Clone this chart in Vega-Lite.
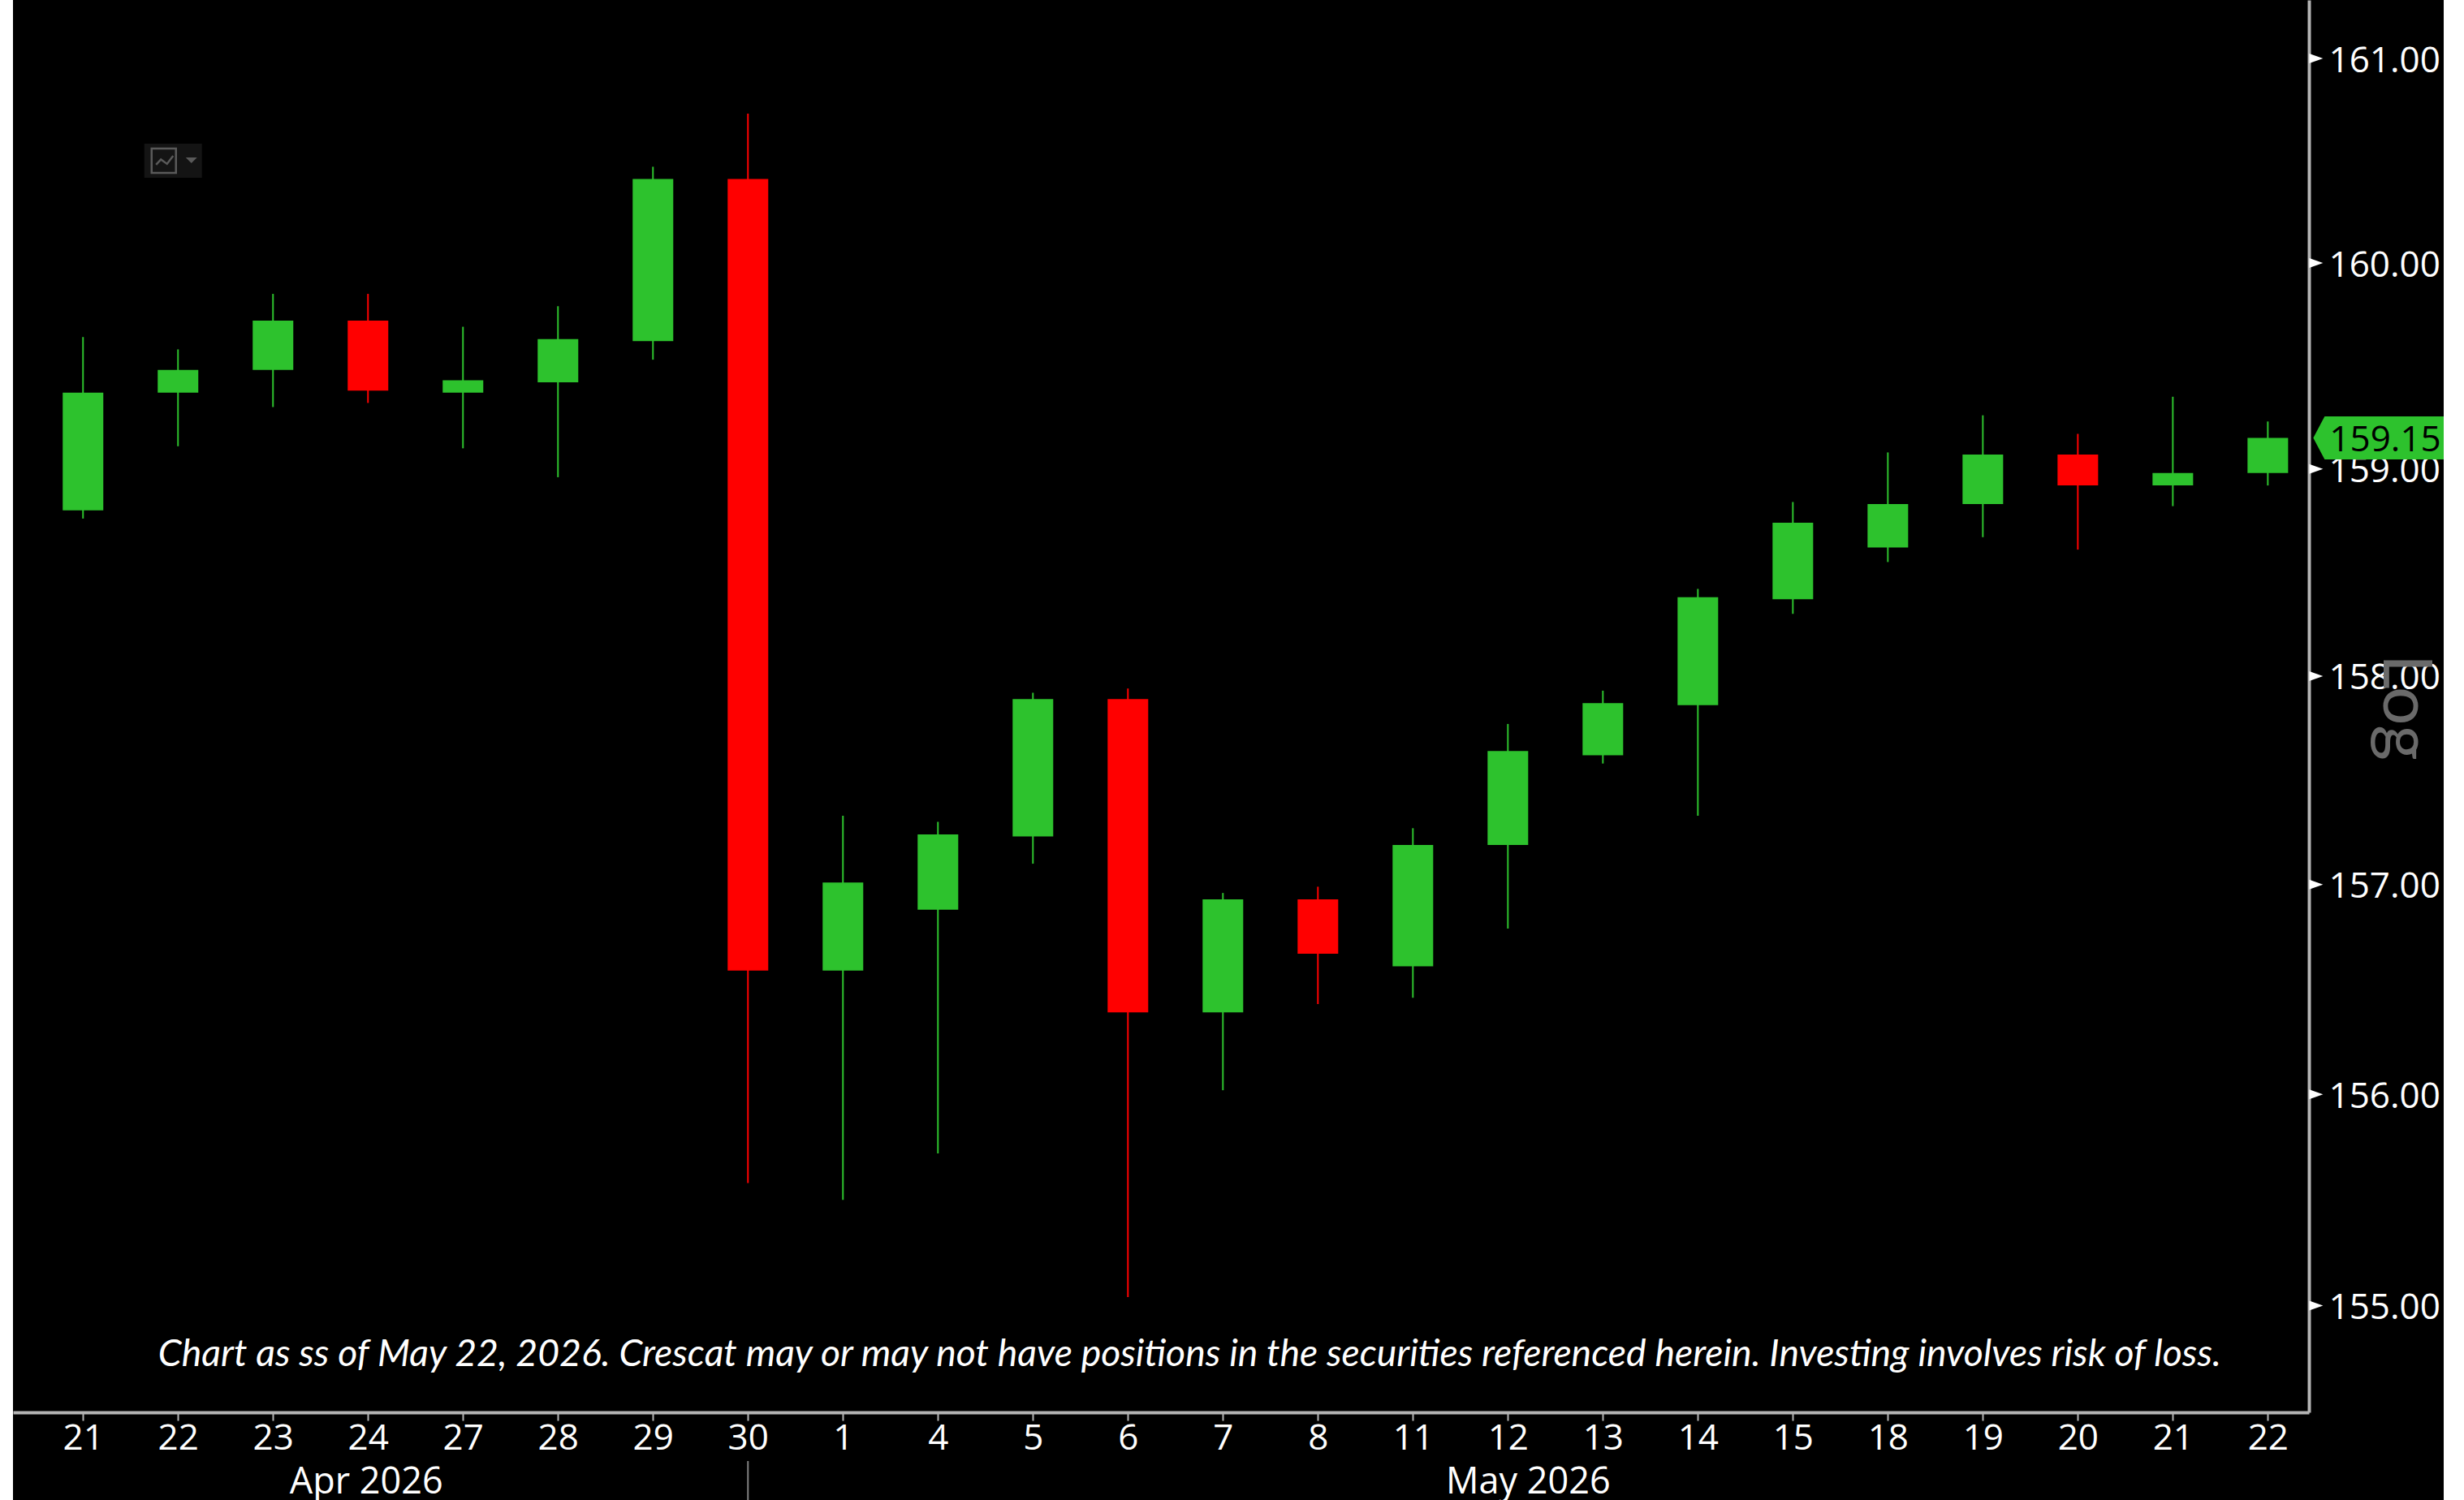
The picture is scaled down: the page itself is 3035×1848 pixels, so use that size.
{
"$schema":"https://vega.github.io/schema/vega-lite/v6.json",
"width":2828,"height":1740,
"autosize":{"type":"none"},
"padding":{"left":16,"top":0,"right":166,"bottom":108},
"background":"#000000",
"view":{"stroke":null,"fill":"#000000"},
"config":{"font":"Open Sans"},
"datasets":{
"candles":[
{"date":"2026-04-21","open":158.80,"close":159.37,"high":159.64,"low":158.76},
{"date":"2026-04-22","open":159.37,"close":159.48,"high":159.58,"low":159.11},
{"date":"2026-04-23","open":159.48,"close":159.72,"high":159.85,"low":159.30},
{"date":"2026-04-24","open":159.72,"close":159.38,"high":159.85,"low":159.32},
{"date":"2026-04-27","open":159.37,"close":159.43,"high":159.69,"low":159.10},
{"date":"2026-04-28","open":159.42,"close":159.63,"high":159.79,"low":158.96},
{"date":"2026-04-29","open":159.62,"close":160.41,"high":160.47,"low":159.53},
{"date":"2026-04-30","open":160.41,"close":156.59,"high":160.73,"low":155.58},
{"date":"2026-05-01","open":156.59,"close":157.01,"high":157.33,"low":155.50},
{"date":"2026-05-04","open":156.88,"close":157.24,"high":157.30,"low":155.72},
{"date":"2026-05-05","open":157.23,"close":157.89,"high":157.92,"low":157.10},
{"date":"2026-05-06","open":157.89,"close":156.39,"high":157.94,"low":155.04},
{"date":"2026-05-07","open":156.39,"close":156.93,"high":156.96,"low":156.02},
{"date":"2026-05-08","open":156.93,"close":156.67,"high":156.99,"low":156.43},
{"date":"2026-05-11","open":156.61,"close":157.19,"high":157.27,"low":156.46},
{"date":"2026-05-12","open":157.19,"close":157.64,"high":157.77,"low":156.79},
{"date":"2026-05-13","open":157.62,"close":157.87,"high":157.93,"low":157.58},
{"date":"2026-05-14","open":157.86,"close":158.38,"high":158.42,"low":157.33},
{"date":"2026-05-15","open":158.37,"close":158.74,"high":158.84,"low":158.30},
{"date":"2026-05-18","open":158.62,"close":158.83,"high":159.08,"low":158.55},
{"date":"2026-05-19","open":158.83,"close":159.07,"high":159.26,"low":158.67},
{"date":"2026-05-20","open":159.07,"close":158.92,"high":159.17,"low":158.61},
{"date":"2026-05-21","open":158.92,"close":158.98,"high":159.35,"low":158.82},
{"date":"2026-05-22","open":158.98,"close":159.15,"high":159.23,"low":158.92}
],
"ticks":[{"price":155},{"price":156},{"price":157},{"price":158},{"price":159},{"price":160},{"price":161}]
},
"data":{"name":"candles"},
"layer":[
{"mark":{"type":"rect","fill":"#ffffff"},"encoding":{"x":{"value":-16},"x2":{"value":0},"y":{"value":0},"y2":{"value":1848}}},
{"data":{"values":[{"label":"Log","price":157.85}]},"mark":{"type":"text","color":"#6a6a6a","fontSize":84,"font":"Lato","angle":90,"align":"center","baseline":"middle","xOffset":168},
 "encoding":{"x":{"datum":"2026-05-22","type":"ordinal"},"y":{"field":"price","type":"quantitative"},"text":{"field":"label"}}},
{"mark":{"type":"rule","strokeWidth":2},
 "encoding":{
  "x":{"field":"date","type":"ordinal","sort":null,
   "scale":{"type":"point","padding":0.585,"align":0.63},
   "axis":{"orient":"bottom","title":null,"domainColor":"#b4b4b4","domainWidth":4,"tickColor":"#b4b4b4","tickWidth":2,"tickSize":10,"labelColor":"#ffffff","labelFontSize":44,"labelFont":"Open Sans","labelAngle":0,"labelAlign":"center","labelBaseline":"top","labelPadding":0,"labelOverlap":false,"labelBound":false,"labelFlush":false,"grid":false,
    "labelExpr":"format(toNumber(split(datum.label,'-')[2]),'d')"}},
  "y":{"field":"low","type":"quantitative",
   "scale":{"type":"log","domain":[154.497,161.287],"nice":false,"zero":false},
   "axis":{"orient":"right","title":null,"values":[155,156,157,158,159,160,161],"format":".2f","domainColor":"#b4b4b4","domainWidth":4,"ticks":false,"labelColor":"#ffffff","labelFontSize":44,"labelFont":"Open Sans","labelPadding":24,"labelOffset":3,"labelOverlap":false,"grid":false}},
  "y2":{"field":"high"},
  "color":{"condition":{"test":"datum.close>=datum.open","value":"#2dc22d"},"value":"#ff0000"}
 }},
{"mark":{"type":"bar","size":50},
 "encoding":{
  "x":{"field":"date","type":"ordinal","sort":null},
  "y":{"field":"open","type":"quantitative"},
  "y2":{"field":"close"},
  "color":{"condition":{"test":"datum.close>=datum.open","value":"#2dc22d"},"value":"#ff0000"}
 }},
{"data":{"name":"ticks"},"mark":{"type":"point","filled":true,"opacity":1,"fill":"#ffffff","size":400,"xOffset":51,"shape":"M0 -0.6 L1.7 0 L0 0.6 Z"},
 "encoding":{"x":{"datum":"2026-05-22","type":"ordinal"},"y":{"field":"price","type":"quantitative"}}},
{"data":{"values":[{"price":159.15}]},"mark":{"type":"point","filled":true,"opacity":1,"fill":"#2dc22d","size":40000,"xOffset":56,"shape":"M0 0 L0.14 -0.265 L1.7 -0.265 L1.7 0.265 L0.14 0.265 Z"},
 "encoding":{"x":{"datum":"2026-05-22","type":"ordinal"},"y":{"field":"price","type":"quantitative"}}},
{"data":{"values":[{"price":159.15}]},"mark":{"type":"text","color":"#000000","fontSize":44,"font":"Open Sans","align":"left","baseline":"middle","xOffset":76,"yOffset":3},
 "encoding":{"x":{"datum":"2026-05-22","type":"ordinal"},"y":{"field":"price","type":"quantitative"},"text":{"field":"price","type":"quantitative","format":".2f"}}},
{"data":{"values":[{"label":"Chart as ss of May 22, 2026. Crescat may or may not have positions in the securities referenced herein. Investing involves risk of loss.","price":154.77}]},"mark":{"type":"text","color":"#ffffff","fontSize":46.4,"font":"Lato","fontStyle":"italic","align":"center","baseline":"middle","xOffset":-41},
 "encoding":{"x":{"datum":"2026-05-07","type":"ordinal"},"y":{"field":"price","type":"quantitative"},"text":{"field":"label"}}},
{"data":{"values":[{"label":"Apr 2026","date":"2026-04-24","price":154.17}]},"mark":{"type":"text","color":"#ffffff","fontSize":45,"font":"Open Sans","align":"center","baseline":"middle","xOffset":-2},
 "encoding":{"x":{"field":"date","type":"ordinal"},"y":{"field":"price","type":"quantitative"},"text":{"field":"label"}}},
{"data":{"values":[{"label":"May 2026","date":"2026-05-12","price":154.17}]},"mark":{"type":"text","color":"#ffffff","fontSize":45,"font":"Open Sans","align":"center","baseline":"middle","xOffset":25},
 "encoding":{"x":{"field":"date","type":"ordinal"},"y":{"field":"price","type":"quantitative"},"text":{"field":"label"}}},
{"data":{"values":[{"date":"2026-04-30","a":154.268,"b":154.085}]},"mark":{"type":"rule","color":"#808080","strokeWidth":2},
 "encoding":{"x":{"field":"date","type":"ordinal"},"y":{"field":"a","type":"quantitative"},"y2":{"field":"b"}}},
{"data":{"values":[{"price":160.5}]},"mark":{"type":"point","filled":true,"opacity":1,"fill":"#141414","size":10000,"xOffset":-6,"shape":"M-0.71 -0.42 L0.71 -0.42 L0.71 0.42 L-0.71 0.42 Z"},
 "encoding":{"x":{"datum":"2026-04-22","type":"ordinal"},"y":{"field":"price","type":"quantitative"}}},
{"data":{"values":[{"price":160.5}]},"mark":{"type":"point","filled":false,"opacity":1,"stroke":"#5a5a5a","strokeWidth":2.5,"size":10000,"xOffset":-6,"shape":"M-0.53 -0.3 L0.07 -0.3 L0.07 0.3 L-0.53 0.3 Z"},
 "encoding":{"x":{"datum":"2026-04-22","type":"ordinal"},"y":{"field":"price","type":"quantitative"}}},
{"data":{"values":[{"price":160.5}]},"mark":{"type":"point","filled":false,"opacity":1,"stroke":"#5a5a5a","strokeWidth":2.5,"size":10000,"xOffset":-6,"shape":"M-0.42 0.1 L-0.3 -0.03 L-0.15 0.08 L0 -0.12"},
 "encoding":{"x":{"datum":"2026-04-22","type":"ordinal"},"y":{"field":"price","type":"quantitative"}}},
{"data":{"values":[{"price":160.5}]},"mark":{"type":"point","filled":true,"opacity":1,"fill":"#5a5a5a","size":10000,"xOffset":-6,"shape":"M0.31 -0.08 L0.59 -0.08 L0.45 0.06 Z"},
 "encoding":{"x":{"datum":"2026-04-22","type":"ordinal"},"y":{"field":"price","type":"quantitative"}}}
]
}
